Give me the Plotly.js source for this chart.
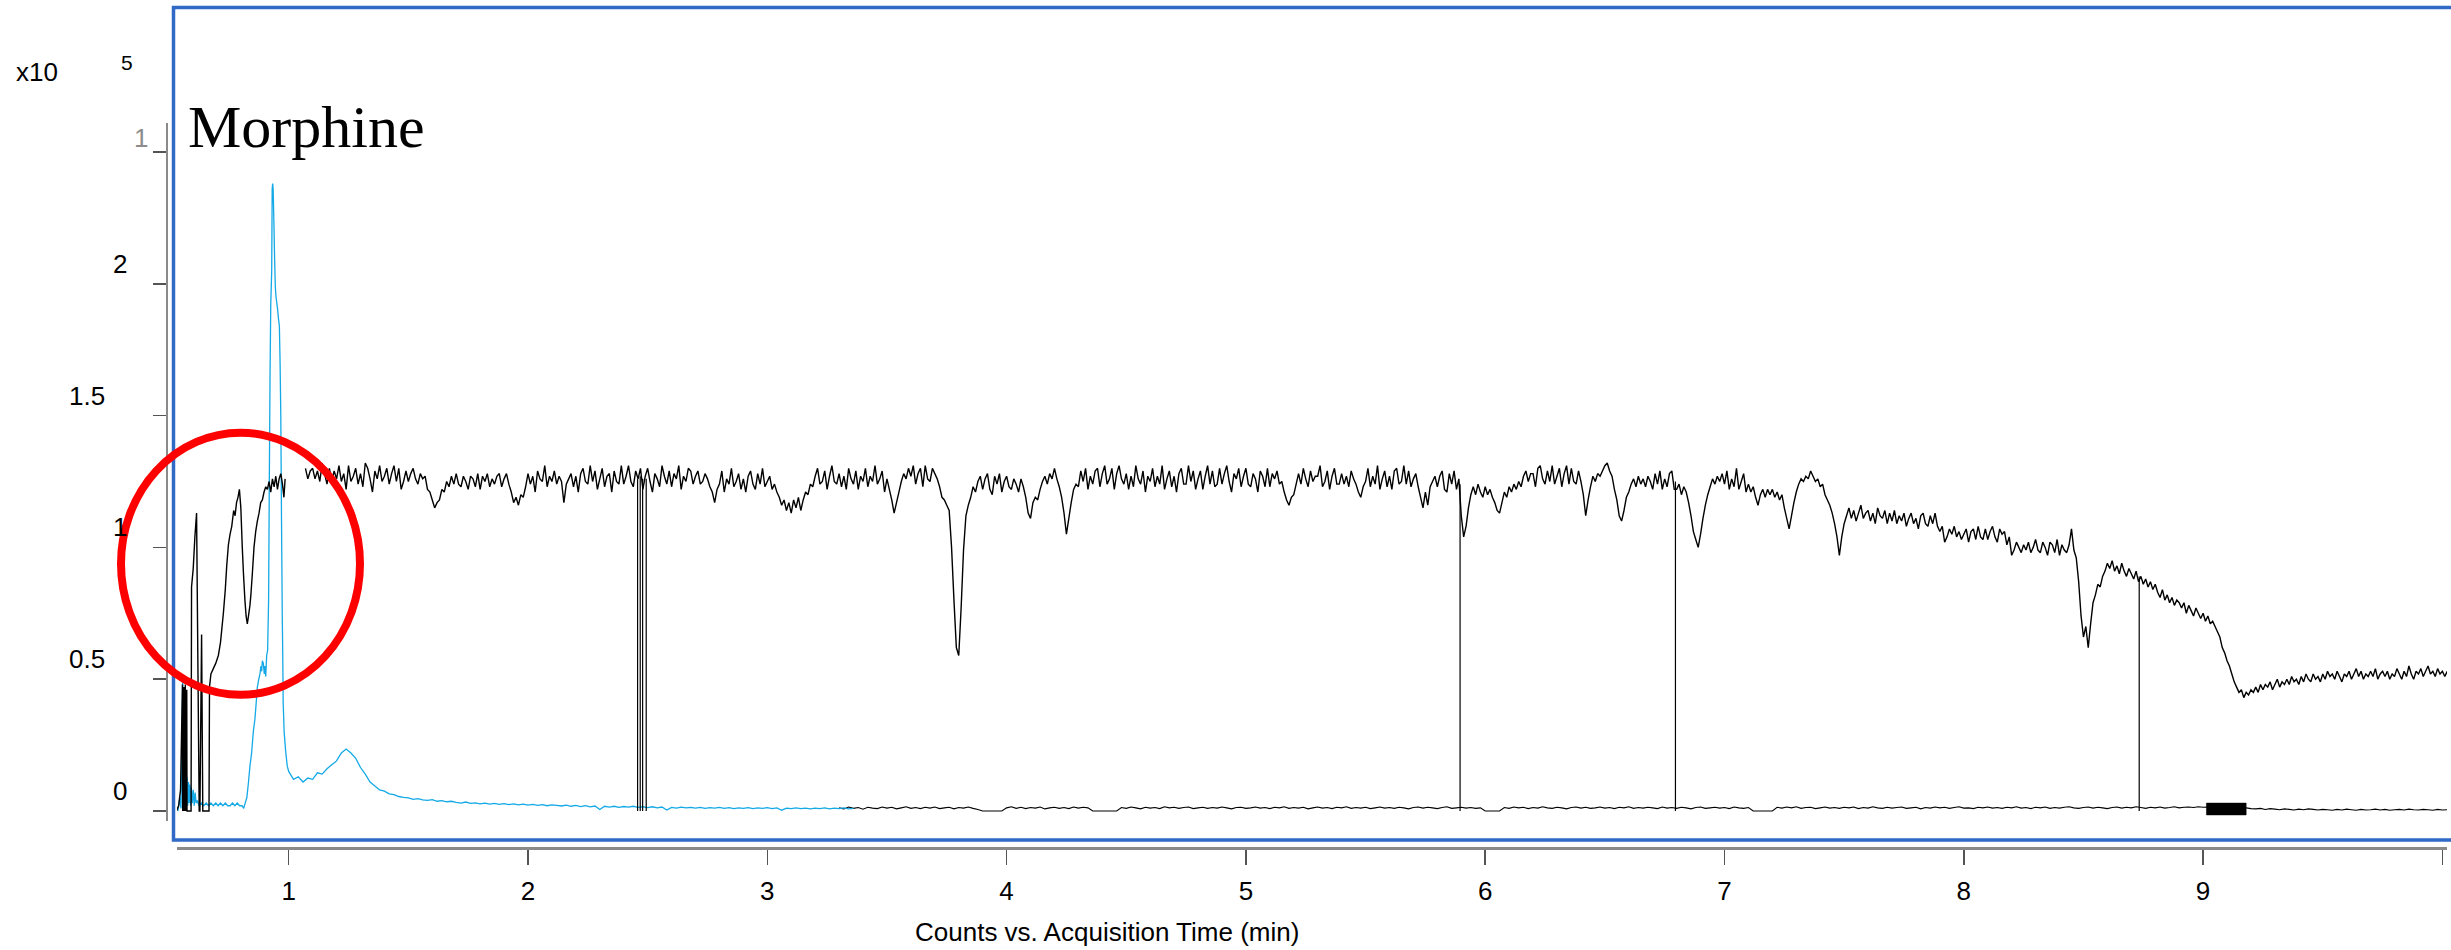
<!DOCTYPE html>
<html>
<head>
<meta charset="utf-8">
<script src="https://cdn.plot.ly/plotly-3.0.1.min.js"></script>
<style>
html,body{margin:0;padding:0;background:#fff;overflow:hidden}
#chart{width:2451px;height:950px}
</style>
</head>
<body>
<div id="chart"></div>
<script>
// ---------------- text ----------------
const compoundName = 'Morphine';
const xAxisTitle = 'Counts vs. Acquisition Time (min)';
const yScaleBase = 'x10';
const yScaleExp = '5';

// ---------------- ticks ----------------
const xTickVals = [1, 2, 3, 4, 5, 6, 7, 8, 9, 10];
const xTickText = ['1', '2', '3', '4', '5', '6', '7', '8', '9', ''];
const yTickVals = [0, 50000, 100000, 150000, 200000, 250000];
const yTickText = ['0', '0.5', '1', '1.5', '2', '1'];

// ---------------- data (values in thousands of counts) ----------------
// Upper black trace, irregular start (min)
const upperEarlyT = [0.531,0.540,0.548,0.556,0.557,0.559,0.560,0.562,0.563,0.565,0.566,0.568,0.569,0.571,0.572,0.574,0.575,0.592,0.594,0.601,0.608,0.615,0.626,0.629,0.636,0.641,0.667,0.669,0.675,0.685,0.695,0.706,0.715,0.727,0.735,0.741,0.748,0.755,0.762,0.770,0.776,0.782,0.788,0.794,0.800,0.806,0.811,0.817,0.822,0.827,0.832,0.838,0.842,0.848,0.855,0.862,0.869,0.876,0.883,0.890,0.897,0.904,0.911,0.918,0.925,0.932,0.939,0.946,0.953,0.960,0.967,0.974,0.980,0.985];
const upperEarlyK = [0,2,8,48,0,46,0,47,0,45,0,48,0,44,0,46,0,0,85,92,104,113,0,0,67,0,0,47,52,54,56,59,64,75,84,93,101,105,108,114,112,117,119,122,115,100,90,80,74,71,74,78,82,90,100,106,110,113,117,118,121,123,122,125,121,126,123,127,122,126,128,124,119,126];
const upperGapT = 1.03;
// Upper black trace, sampled every 0.01 min from 1.07 min
const upperT0 = 1.07;
const upperDt = 0.01;
const upperK = [
130,126,129,
130,126,129,125,132,128,124,130,125,129,
126,131,125,128,122,131,125,127,130,124,
128,123,132,130,126,121,129,126,131,125,
127,130,124,128,131,125,130,122,125,129,
125,128,130,126,124,128,126,127,122,121,
118,115,117,118,122,121,125,123,127,124,
128,124,123,127,125,122,127,126,123,128,
122,127,125,128,123,126,124,127,128,123,
126,128,124,121,117,119,116,120,119,123,
128,124,127,121,129,126,125,131,123,127,
125,129,124,127,125,117,124,126,128,123,
127,121,128,130,125,124,131,125,129,122,
126,130,123,127,128,121,129,125,124,131,
124,127,131,125,123,129,126,130,122,127,
130,125,121,128,126,123,131,127,124,129,
123,128,126,131,122,127,125,130,129,124,
127,129,124,125,128,126,123,121,117,122,
124,129,121,126,124,130,123,125,128,122,
126,121,127,129,124,122,128,124,130,123,
125,127,122,124,121,119,116,118,114,117,
113,118,115,119,114,118,121,120,124,123,
127,130,124,125,129,122,127,131,125,124,
128,123,127,122,130,126,124,129,122,127,
125,130,123,127,125,131,124,126,129,121,
126,122,118,113,117,121,125,128,126,130,
127,131,124,128,130,123,131,126,125,130,
128,126,123,119,118,116,114,100,80,62,
59,77,99,112,116,119,123,121,125,127,
122,126,128,122,120,127,124,128,121,125,
127,123,122,126,124,121,126,123,119,113,
111,117,119,118,122,125,127,124,128,126,
130,126,123,119,113,105,111,117,122,124,
123,129,125,130,122,127,124,129,130,123,
128,131,124,126,130,122,128,131,126,124,
128,122,127,123,131,126,124,129,121,127,
125,130,123,127,124,131,122,126,129,123,
127,121,128,130,124,124,131,125,129,122,
126,129,122,127,131,124,129,123,124,130,
124,128,131,125,121,128,126,130,123,127,
130,124,123,128,126,121,129,127,123,130,
123,128,126,129,124,125,121,118,116,119,
120,124,128,124,130,126,123,129,125,127,
127,131,123,125,129,122,127,130,124,124,
128,124,127,123,129,126,124,121,119,123,
125,130,123,127,124,131,122,126,129,123,
127,122,129,130,124,125,131,124,129,123,
126,128,123,119,115,121,116,123,125,127,
123,127,129,122,121,128,124,129,122,126,
112,104,108,115,120,123,120,124,121,119,
123,120,122,119,117,114,113,117,121,119,
123,121,124,122,125,123,127,129,125,128,
128,123,130,131,126,124,129,125,131,124,
127,130,123,128,131,124,130,125,124,129,
125,120,112,118,123,127,125,128,127,129,
131,132,129,127,122,118,112,110,114,119,
121,124,126,123,127,124,126,123,127,125,
122,128,124,129,122,126,123,128,129,122,
122,124,120,123,121,117,112,106,103,100,
105,111,116,120,123,126,124,127,125,128,
124,129,122,126,123,130,122,125,128,121,
124,121,123,119,116,120,122,119,122,120,
122,119,121,118,120,115,111,107,112,117,
121,124,126,125,127,126,129,127,125,126,
123,124,120,118,116,113,109,104,97,104,
109,112,115,111,114,110,113,116,111,113,
114,110,113,109,115,112,111,114,109,113,
110,114,109,112,110,113,108,111,113,109,
111,107,112,113,109,108,112,109,113,108,
106,108,102,104,107,105,108,104,106,103,
105,107,102,106,107,103,108,104,103,107,
103,106,108,104,102,107,105,106,101,104,
97,99,102,100,98,101,99,102,98,100,
103,99,98,102,100,97,102,101,98,103,
97,101,99,98,101,107,99,96,87,74,
66,70,62,71,79,82,86,85,89,91,
94,92,95,91,93,90,94,91,89,92,
90,88,91,87,89,86,88,85,87,84,
86,83,81,84,80,82,79,81,78,80,
79,77,79,75,78,76,74,77,75,73,
75,72,74,71,72,70,68,66,62,60,
57,55,52,49,47,45,46,43,45,44,
46,45,47,45,48,46,48,47,49,46,
48,50,47,49,48,50,48,51,49,50,
48,51,49,52,50,49,52,50,51,49,
52,50,53,51,52,50,53,51,49,52,
51,53,50,52,54,51,53,50,52,51,
53,51,54,50,52,53,51,53,50,52,
51,54,52,50,53,51,55,52,50,53,
52,54,51,53,55,52,53,51,54,52,
53,51,53
];
// Drop-outs of the upper trace to zero (min) and the level they drop from
const dropT = [2.458, 2.469, 2.479, 2.494, 5.895, 6.795, 8.733];
const dropTopK = [126, 127, 126, 126, 124, 125, 89];

// Blue trace, irregular start
const blueEarlyT = [0.537,0.545,0.550,0.554,0.557,0.560,0.562,0.564,0.566,0.568,0.570,0.572,0.575,0.578,0.581,0.584,0.587,0.590,0.593,0.597,0.601,0.605,0.609,0.613,0.618,0.625,0.635,0.645,0.655,0.665,0.675,0.685,0.695,0.705,0.715,0.725,0.735,0.745,0.755,0.765,0.775,0.785,0.795,0.805,0.812,0.818,0.825,0.832,0.838,0.845,0.852,0.859,0.865,0.869,0.875,0.880,0.884,0.887,0.890,0.894,0.898,0.901,0.904,0.908,0.912,0.916,0.919,0.922,0.925,0.929,0.931,0.933,0.935,0.938,0.941,0.944,0.947,0.950,0.954,0.957,0.961,0.964,0.967,0.970,0.973,0.975,0.977,0.981,0.987,0.994];
const blueEarlyK = [0,5,1,30,51,5,15,1,14,0,12,1,13,2,11,3,10,2,9,3,8,2,7,3,4,2,3,2,3,2,3,2,3,2,3,2,3,2,2,3,2,3,2,2,1,3,5,11,17,22,30,35,42,47,50,52,55,53,57,56,52,55,51,59,61,80,125,165,192,205,236,238,236,224,210,199,195,193,190,187,184,170,150,110,75,60,41,30,23,17];
// Blue trace tail, sampled every 0.02 min from 1.00 min
const blueTailT0 = 1.00;
const blueTailDt = 0.02;
const blueTailK = [
15,12,13,11,12.5,12,14.5,14,16,17.5,
19,22,23.5,22,20,16.5,14,11,9.5,8,
7.5,6.5,6.2,5.5,5.2,5,4.4,4.7,4.2,4.0,
4.3,3.7,3.9,3.5,3.7,3.3,3.0,3.4,2.9,3.1,
2.7,3.0,2.6,2.9,2.5,2.8,2.4,2.7,2.3,2.6,
2.2,2.5,2.1,2.4,2.0,2.3,2.1,1.9,2.2,1.8,
2.1,1.7,2.0,1.6,1.9,0.6,1.8,1.5,1.8,1.4,
1.7,1.5,1.8,1.4,1.6,1.3,1.6,1.2,1.5,0.4,
1.4,1.1,1.5,1.2,1.4,1.1,1.4,1.0,1.3,1.1,
1.4,1.0,1.3,0.9,1.2,1.0,1.3,0.9,1.2,1.0,
1.3,0.9,1.2,0.3,1.1,0.9,1.2,0.9,1.1,0.8,
1.1,0.9,1.2,0.8,1.1,0.9,1.2,0.8,1.0
];

// Black baseline trace, sampled every 0.02 min from 3.30 min
const baseT0 = 3.30;
const baseDt = 0.02;
const baseK = [
1.2,0.8,1.5,1.0,1.3,0.7,1.4,1.1,0.9,1.5,
1.1,1.4,0.8,1.2,1.6,1.0,1.3,0.9,1.4,1.1,
1.5,0.9,1.2,1.4,0.8,1.3,1.1,1.5,1.0,0.6,
0,0,0,0,0,1.2,1.6,1.0,1.4,0.9,
1.3,1.1,1.5,0.8,1.2,1.4,1.0,1.3,0.9,1.5,
1.1,1.4,1.2,0,0,0,0,0,0,1.3,
1.0,1.5,1.2,0.8,1.4,1.1,1.3,0.9,1.6,1.2,
1.4,1.0,1.3,1.5,0.9,1.2,1.4,1.0,1.3,1.1,
1.5,1.2,0.8,1.3,1.4,1.0,1.2,1.5,1.1,1.3,
0.9,1.4,1.2,1.6,1.0,1.3,1.1,1.4,0.8,1.2,
1.5,1.1,1.3,0.9,1.4,1.2,1.6,1.0,1.3,1.1,
1.4,0.9,1.2,1.5,1.1,1.3,1.0,1.4,1.2,0.8,
1.3,1.5,1.1,1.4,1.2,0.9,1.3,1.6,1.0,1.2,
1.4,1.1,1.3,1.0,1.2,0,0,0,0,1.3,
1.0,1.5,1.2,1.4,0.9,1.3,1.1,1.6,1.2,1.0,
1.4,1.2,0.8,1.3,1.5,1.1,1.4,1.0,1.2,1.5,
1.1,1.3,0.9,1.4,1.2,1.6,1.0,1.3,1.1,1.4,
1.2,0.9,1.5,1.1,1.3,1.0,1.4,1.2,0.8,1.3,
1.5,1.0,1.2,1.4,1.1,1.3,0.9,1.5,1.2,1.0,
1.3,0,0,0,0,0,1.4,1.1,1.5,1.2,
1.6,1.0,1.3,1.4,0.9,1.2,1.5,1.1,1.3,1.0,
1.4,1.2,1.5,0.9,1.3,1.1,1.6,1.2,1.0,1.4,
1.1,1.3,1.5,1.0,1.2,1.4,0.8,1.3,1.1,1.5,
1.2,1.4,1.0,1.3,1.6,1.1,1.2,0.9,1.4,1.2,
1.5,1.1,1.3,1.0,1.4,1.2,1.6,1.1,1.3,0.9,
1.4,1.2,1.5,1.0,1.3,1.1,1.4,1.6,1.2,1.0,
1.3,1.5,1.1,1.4,1.2,0.9,1.3,1.5,1.1,1.4,
1.2,1.6,1.3,1.0,1.4,1.2,1.5,1.1,1.3,1.6,
1.2,1.4,1.5,1.3,1.6,1.4,1.5,1.3,1.6,1.4,
1.5,1.3,1.6,1.4,1.2,0.9,0.8,1.0,0.6,0.9,
0.7,0.5,0.8,0.6,0.4,0.7,0.5,0.8,0.6,0.4,
0.6,0.5,0.3,0.6,0.4,0.7,0.5,0.3,0.6,0.4,
0.5,0.7,0.4,0.6,0.3,0.5,0.6,0.4,0.7,0.5,
0.4,0.6,0.5,0.3,0.6,0.4,0.5
];
// Saturated (solid) stretch of the baseline trace
const bandT = [9.014, 9.180];
const bandK = [-1.5, 3.0];

// ---------------- geometry & style ----------------
const PAGE_W = 2451, PAGE_H = 950;
const M = {l: 167, r: 4, t: 123, b: 102};
const PW = PAGE_W - M.l - M.r;   // plot-area width in px
const PH = PAGE_H - M.t - M.b;   // plot-area height in px
const px2x = px => (px - M.l) / PW;
const px2y = py => (M.t + PH - py) / PH;
const SANS = 'Liberation Sans, Arial, Helvetica, sans-serif';
const SERIF = 'Liberation Serif, Times New Roman, serif';
const BLACK = '#000000';
const BLUE = '#14a9e6';
const K = 1000;

function grid(t0, dt, n) { const a = []; for (let i = 0; i < n; i++) a.push(+(t0 + i * dt).toFixed(3)); return a; }
const toCounts = arr => arr.map(v => (v === null ? null : v * K));

// ---------------- traces ----------------
const baseTrace = {
  type: 'scatter', mode: 'lines', hoverinfo: 'skip',
  x: grid(baseT0, baseDt, baseK.length), y: toCounts(baseK),
  line: {color: BLACK, width: 1.1, simplify: false}
};
const bandTrace = {
  type: 'scatter', mode: 'lines', hoverinfo: 'skip', fill: 'toself', fillcolor: BLACK,
  x: [bandT[0], bandT[1], bandT[1], bandT[0], bandT[0]],
  y: toCounts([bandK[0], bandK[0], bandK[1], bandK[1], bandK[0]]),
  line: {color: BLACK, width: 0.5}
};
const blueTrace = {
  type: 'scatter', mode: 'lines', hoverinfo: 'skip',
  x: blueEarlyT.concat(grid(blueTailT0, blueTailDt, blueTailK.length)),
  y: toCounts(blueEarlyK.concat(blueTailK)),
  line: {color: BLUE, width: 1.3, simplify: false}
};
const upperTrace = {
  type: 'scatter', mode: 'lines', hoverinfo: 'skip',
  x: upperEarlyT.concat([upperGapT], grid(upperT0, upperDt, upperK.length)),
  y: toCounts(upperEarlyK.concat([null], upperK)),
  connectgaps: false,
  line: {color: BLACK, width: 1.4, simplify: false}
};
const dropX = [], dropY = [];
dropT.forEach((t, i) => { dropX.push(t, t, null); dropY.push(0, dropTopK[i] * K, null); });
const dropTrace = {
  type: 'scatter', mode: 'lines', hoverinfo: 'skip',
  x: dropX, y: dropY, line: {color: BLACK, width: 1.2}
};

// ---------------- annotations ----------------
const annotations = [];
yTickVals.forEach((v, i) => {
  const isTop = i === yTickVals.length - 1;
  const wide = yTickText[i].length > 1;
  const rightPx = isTop ? 150 : (wide ? 107 : 129);
  annotations.push({
    xref: 'paper', yref: 'y', x: px2x(rightPx), y: v,
    xanchor: 'right', yanchor: 'middle', yshift: isTop ? 14 : 20,
    text: yTickText[i], showarrow: false,
    font: {family: SANS, size: 26, color: isTop ? '#8c8c8c' : '#000'}
  });
});
annotations.push({
  xref: 'paper', yref: 'paper', x: px2x(14), y: px2y(72), xanchor: 'left', yanchor: 'middle',
  text: yScaleBase, showarrow: false, font: {family: SANS, size: 26, color: '#000'}
});
annotations.push({
  xref: 'paper', yref: 'paper', x: px2x(119), y: px2y(62), xanchor: 'left', yanchor: 'middle',
  text: yScaleExp, showarrow: false, font: {family: SANS, size: 21, color: '#000'}
});
annotations.push({
  xref: 'paper', yref: 'paper', x: px2x(186), y: px2y(127), xanchor: 'left', yanchor: 'middle',
  text: compoundName, showarrow: false, font: {family: SERIF, size: 60, color: '#000'}
});
annotations.push({
  xref: 'paper', yref: 'paper', x: px2x(1106.5), y: px2y(931.5), xanchor: 'center', yanchor: 'middle',
  text: xAxisTitle, showarrow: false, font: {family: SANS, size: 26, color: '#000'}
});

// ---------------- shapes ----------------
const shapes = [
  { // blue frame
    type: 'rect', xref: 'paper', yref: 'paper', layer: 'above',
    x0: px2x(173.5), x1: px2x(2470), y0: px2y(840), y1: px2y(7.5),
    line: {color: '#3169c6', width: 3.5}, fillcolor: 'rgba(0,0,0,0)'
  },
  { // red highlight circle
    type: 'circle', xref: 'paper', yref: 'paper', layer: 'above',
    x0: px2x(121), x1: px2x(360), y0: px2y(694.8), y1: px2y(432.7),
    line: {color: '#ff0000', width: 8}, fillcolor: 'rgba(0,0,0,0)'
  }
];

// ---------------- layout ----------------
const xPx0 = 177, xPxPerMin = 239.3, xPxAt1 = 288.7;
const yPxZero = 811, yPxPerCount = 263.6 / 100000, yPxBottom = 821;
const layout = {
  width: PAGE_W, height: PAGE_H, autosize: false,
  margin: M,
  paper_bgcolor: '#ffffff', plot_bgcolor: 'rgba(0,0,0,0)',
  showlegend: false, hovermode: false, dragmode: false,
  xaxis: {
    domain: [px2x(xPx0), 1],
    range: [1 - (xPxAt1 - xPx0) / xPxPerMin, 1 + (M.l + PW - xPxAt1) / xPxPerMin],
    anchor: 'free', position: 0,
    showline: true, linecolor: '#8a8a8a', linewidth: 2.5,
    ticks: 'outside', ticklen: 15, tickwidth: 1.5, tickcolor: '#555555',
    tickmode: 'array', tickvals: xTickVals, ticktext: xTickText,
    tickfont: {family: SANS, size: 26, color: '#000'},
    ticklabelstandoff: 4,
    showgrid: false, zeroline: false, fixedrange: true
  },
  yaxis: {
    domain: [px2y(yPxBottom), 1],
    range: [-(yPxBottom - yPxZero) / yPxPerCount, (yPxZero - M.t) / yPxPerCount],
    anchor: 'free', position: 0,
    showline: true, linecolor: '#8a8a8a', linewidth: 2,
    ticks: 'outside', ticklen: 13, tickwidth: 1.5, tickcolor: '#555555',
    tickmode: 'array', tickvals: yTickVals, showticklabels: false,
    showgrid: false, zeroline: false, fixedrange: true
  },
  annotations: annotations,
  shapes: shapes
};

Plotly.newPlot('chart', [baseTrace, blueTrace, bandTrace, upperTrace, dropTrace], layout,
  {staticPlot: true, displayModeBar: false, responsive: false});
</script>
</body>
</html>
